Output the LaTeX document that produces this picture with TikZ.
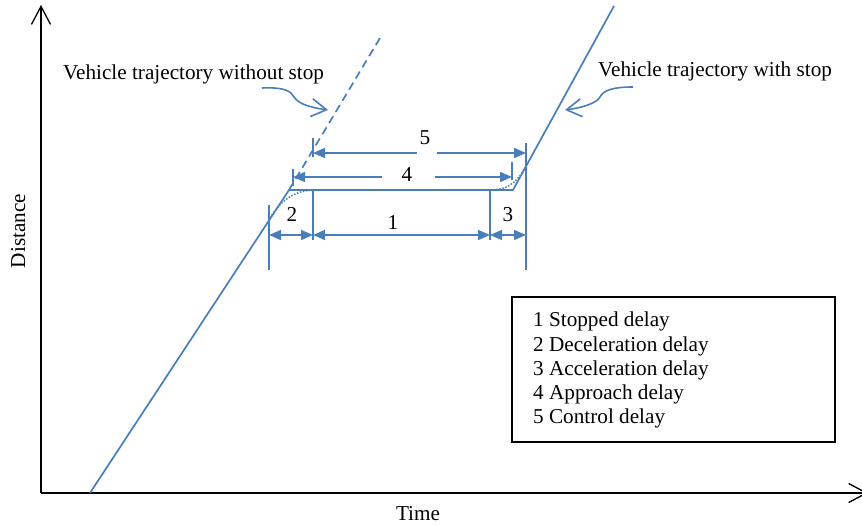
\documentclass[tikz,border=0pt]{standalone}
\usepackage{fontspec}
\setmainfont{Liberation Serif}
\usetikzlibrary{arrows.meta}
\definecolor{trajblue}{RGB}{74,126,187}
\begin{document}
\begin{tikzpicture}[x=1pt,y=-1pt,
  lbl/.style={font=\fontsize{21.2}{24}\selectfont, inner sep=0pt},
  trajline/.style={draw=trajblue, line width=1.7pt},
  tipA/.tip={Triangle[length=12pt,width=10pt]},
  dimboth/.style={trajline, tipA-tipA},
  dimleft/.style={trajline, tipA-},
  dimright/.style={trajline, -tipA},
  extline/.style={draw=trajblue, line width=1.5pt},
  axisline/.style={draw=black, line width=2pt, -{Straight Barb[length=18pt,width=19pt,line width=1.3pt]}},
  callout/.style={draw=trajblue, line width=1.6pt, -{Straight Barb[length=15pt,width=18pt]}}]
\clip (0,0) rectangle (862,526);

% axes
\coordinate (origin) at (41,493);
\coordinate (ytop) at (41,5);
\coordinate (xend) at (868,493);
\draw[axisline] (origin) -- (ytop);
\draw[axisline] (origin) -- (xend);
\node[lbl, anchor=base] (tlabel) at (418,520) {Time};
\node[lbl, rotate=90, anchor=base] (dlabel) at (25,231) {Distance};

% trajectories
\coordinate (start) at (90,493);
\coordinate (stopA) at (289,190);
\coordinate (stopB) at (513,190);
\coordinate (finish) at (614,6);
\coordinate (freeEnd) at (380,38);
\draw[trajline, line join=round] (start) -- (stopA) -- (stopB) -- (finish);
\draw[trajline, dash pattern=on 8pt off 5pt] (stopA) -- (freeEnd);

% smoothed deceleration / acceleration
\coordinate (decS) at (270,218);
\coordinate (decE) at (313,190);
\coordinate (accS) at (490,190);
\coordinate (accE) at (525,168);
\draw[draw=trajblue, line width=1.5pt, dash pattern=on 1.5pt off 1.6pt]
  (decS) .. controls (283,197) and (297,191) .. (decE);
\draw[draw=trajblue, line width=1.5pt, dash pattern=on 1.5pt off 1.6pt]
  (accS) .. controls (506,190) and (516,184) .. (accE);

% extension lines
\draw[extline] (269,205) -- (269,270);
\draw[extline] (313,190) -- (313,240);
\draw[extline] (490,190) -- (490,240);
\draw[extline] (526,143) -- (526,270);
\draw[extline] (293,169) -- (293,186);
\draw[extline] (512,162) -- (512,180);
\draw[extline] (313,138) -- (313,157);

% dimension arrows
\coordinate (d2a) at (269,235);
\coordinate (d2b) at (313,235);
\coordinate (d1b) at (490,235);
\coordinate (d3b) at (526,235);
\draw[dimboth] (d2a) -- (d2b);
\draw[dimboth] (d2b) -- (d1b);
\draw[dimboth] (d1b) -- (d3b);
\node[lbl, anchor=base] (n2) at (292,222) {2};
\node[lbl, anchor=base] (n1) at (393,230) {1};
\node[lbl, anchor=base] (n3) at (508,222) {3};

\coordinate (d4a) at (293,177);
\coordinate (d4b) at (512,177);
\node[lbl, anchor=base] (n4) at (407,182) {4};
\draw[dimleft] (d4a) -- (382,177);
\draw[dimright] (435,177) -- (d4b);

\coordinate (d5a) at (313,153);
\coordinate (d5b) at (526,153);
\node[lbl, anchor=base] (n5) at (425,145) {5};
\draw[dimleft] (d5a) -- (417,153);
\draw[dimright] (437,153) -- (d5b);

% callouts
\node[lbl, anchor=base west] (woStop) at (63,80) {Vehicle trajectory without stop};
\node[lbl, anchor=base west] (wStop) at (598,77) {Vehicle trajectory with stop};
\coordinate (woTail) at (262,88);
\coordinate (woTip) at (328,110);
\coordinate (wTail) at (633,87);
\coordinate (wTip) at (565,110);
\draw[callout] (woTail) .. controls (284,87) and (291,91) .. (294,97)
  .. controls (299,105) and (314,108) .. (woTip);
\draw[callout] (wTail) .. controls (611,87) and (603,91) .. (600,97)
  .. controls (596,104) and (580,108) .. (wTip);

% legend
\draw[black, line width=1.3pt] (512,297) rectangle (835,442);
\node[lbl, anchor=base west] (leg1) at (533,327) {1 Stopped delay};
\node[lbl, anchor=base west] (leg2) at (533,351.5) {2 Deceleration delay};
\node[lbl, anchor=base west] (leg3) at (533,375.5) {3 Acceleration delay};
\node[lbl, anchor=base west] (leg4) at (533,399.5) {4 Approach delay};
\node[lbl, anchor=base west] (leg5) at (533,423.5) {5 Control delay};
\end{tikzpicture}
\end{document}
